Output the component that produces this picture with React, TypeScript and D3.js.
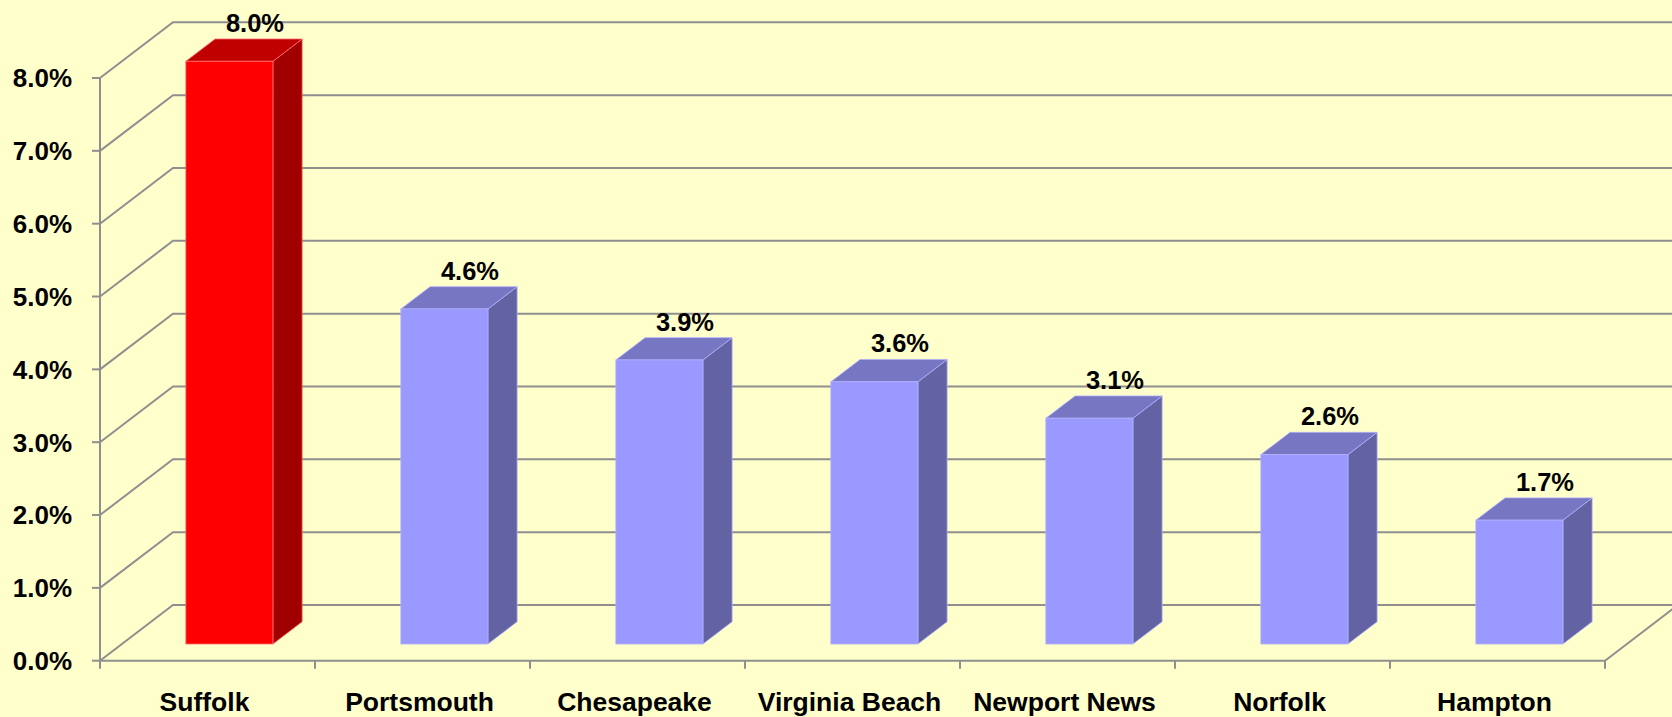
import { useRef, useEffect } from "react"
import * as d3 from "d3"

const cities = ["Suffolk", "Portsmouth", "Chesapeake", "Virginia Beach", "Newport News", "Norfolk", "Hampton"]
const rates = [8.0, 4.6, 3.9, 3.6, 3.1, 2.6, 1.7]
const yTicks = [0, 1, 2, 3, 4, 5, 6, 7, 8]

const W = 1672
const H = 717

const App = () => {
  const svgRef = useRef<SVGSVGElement>(null)

  useEffect(() => {
    const svg = d3.select(svgRef.current)
    svg.selectAll("*").remove()

    // plot frame (front plane) and 3d depth offset
    const left = 100
    const right = 1605
    const depthX = 73
    const depthY = -55.7
    const barFront = 0.3
    const barBack = 0.7

    const x = d3.scaleBand().domain(cities).range([left, right]).paddingInner(0.595).paddingOuter(0.2975)
    const xCat = d3.scaleBand().domain(cities).range([left, right])
    const y = d3.scaleLinear().domain([0, 8]).range([660.7, 78])

    const font = "'Liberation Sans', Arial, sans-serif"
    const gridColor = "#8f8f8f"

    svg.append("rect").attr("width", W).attr("height", H).attr("fill", "#ffffcc")

    // gridlines: left side wall + back wall
    const grid = svg.append("g").attr("stroke", gridColor).attr("stroke-width", 2).attr("fill", "none")
    yTicks.forEach((t) => {
      const y0 = y(t)
      grid
        .append("path")
        .attr("d", `M${left},${y0}L${left + depthX},${y0 + depthY}L${right + depthX},${y0 + depthY}`)
    })

    // floor right edge, axes
    grid.append("line").attr("x1", right).attr("y1", y(0)).attr("x2", right + depthX).attr("y2", y(0) + depthY)
    grid.append("line").attr("x1", left).attr("y1", y(8)).attr("x2", left).attr("y2", y(0))
    grid.append("line").attr("x1", left).attr("y1", y(0)).attr("x2", right).attr("y2", y(0))

    // y ticks
    yTicks.forEach((t) => {
      grid.append("line").attr("x1", left - 8).attr("x2", left).attr("y1", y(t)).attr("y2", y(t))
      svg
        .append("text")
        .attr("x", 72)
        .attr("y", y(t))
        .attr("dy", "0.36em")
        .attr("text-anchor", "end")
        .style("font-family", font)
        .style("font-weight", "bold")
        .style("font-size", "26px")
        .text(`${t.toFixed(1)}%`)
    })

    // x ticks at category boundaries
    const bounds = cities.map((c) => xCat(c) as number).concat([right])
    bounds.forEach((b) => {
      grid.append("line").attr("x1", b).attr("x2", b).attr("y1", y(0)).attr("y2", y(0) + 8)
    })

    // bars
    const bars = svg.append("g")
    cities.forEach((c, i) => {
      const v = rates[i]
      const isRed = i === 0
      const front = isRed ? "#ff0000" : "#9999ff"
      const top = isRed ? "#c00000" : "#7676c2"
      const side = isRed ? "#a00000" : "#6363a4"
      const edge = isRed ? "#ff6a6a" : "#b0b0ff"

      const fx = (x(c) as number) + depthX * barFront
      const fy = depthY * barFront
      const bx = (x(c) as number) + depthX * barBack
      const by = depthY * barBack
      const w = x.bandwidth()
      const y0 = y(0)
      const y1 = y(v)

      bars
        .append("polygon")
        .attr("points", `${fx + w},${y0 + fy} ${bx + w},${y0 + by} ${bx + w},${y1 + by} ${fx + w},${y1 + fy}`)
        .attr("fill", side)
        .attr("stroke", edge)
        .attr("stroke-width", 0.8)
      bars
        .append("polygon")
        .attr("points", `${fx},${y1 + fy} ${fx + w},${y1 + fy} ${bx + w},${y1 + by} ${bx},${y1 + by}`)
        .attr("fill", top)
        .attr("stroke", edge)
        .attr("stroke-width", 0.8)
      bars
        .append("rect")
        .attr("x", fx)
        .attr("y", y1 + fy)
        .attr("width", w)
        .attr("height", y0 - y1)
        .attr("fill", front)
        .attr("stroke", edge)
        .attr("stroke-width", 0.8)

      // value label above the back top edge
      svg
        .append("text")
        .attr("x", (x(c) as number) + w / 2 + depthX * 0.65)
        .attr("y", y1 + by - 7)
        .attr("text-anchor", "middle")
        .style("font-family", font)
        .style("font-weight", "bold")
        .style("font-size", "25.5px")
        .text(`${v.toFixed(1)}%`)
    })

    // category labels
    cities.forEach((c) => {
      svg
        .append("text")
        .attr("x", (xCat(c) as number) + xCat.bandwidth() / 2 - 3)
        .attr("y", 711)
        .attr("text-anchor", "middle")
        .style("font-family", font)
        .style("font-weight", "bold")
        .style("font-size", "26.5px")
        .text(c)
    })
  }, [])

  return (
    <div style={{ position: "absolute", left: 0, top: 0 }}>
      <svg ref={svgRef} width={W} height={H} style={{ display: "block" }}></svg>
    </div>
  )
}

export default App
